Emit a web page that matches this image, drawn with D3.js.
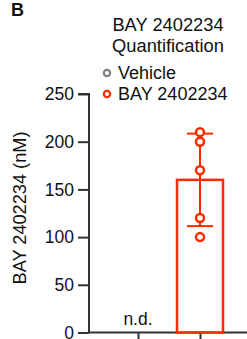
<!DOCTYPE html>
<html><head><meta charset="utf-8">
<script src="https://cdn.jsdelivr.net/npm/d3@7"></script>
<style>body{margin:0;background:#fff}svg{display:block}text{font-family:"Liberation Sans",Arial,sans-serif}</style>
</head><body><svg id="c" width="247" height="339"></svg>
<script>
const groups = ["Vehicle", "BAY 2402234"];
const groupColors = ["#808080", "#ff2a00"];
const bayPoints = [210, 200, 170, 120, 100];
const vehiclePoints = [];
const yTicks = [0, 50, 100, 150, 200, 250];
const title = ["BAY 2402234", "Quantification"];
const yLabel = "BAY 2402234 (nM)";
const panelLetter = "B";

const svg = d3.select("#c");
const y = d3.scaleLinear().domain([0, 250]).range([332.5, 94]);
const x = d3.scalePoint().domain(groups).range([138, 200]);
const axisX = 89;
const red = groupColors[1];

// y axis
const ya = svg.append("g").attr("transform", `translate(${axisX},0)`)
  .call(d3.axisLeft(y).tickValues(yTicks).tickSize(11).tickPadding(4));
ya.select(".domain").attr("stroke", "#333").attr("stroke-width", 2).attr("d", `M-11,${y(250)}H0V${y(0)}`);
ya.selectAll(".tick line").attr("stroke", "#333").attr("stroke-width", 2);
ya.selectAll(".tick text").attr("font-size", 17.5).attr("fill", "#111").attr("font-family", "Liberation Sans, Arial, sans-serif");

// x axis
const xa = svg.append("g").attr("transform", `translate(0,${y(0)})`)
  .call(d3.axisBottom(x).tickSize(8).tickFormat(""));
xa.select(".domain").attr("stroke", "#333").attr("stroke-width", 2).attr("d", `M${axisX},0H260`);
xa.selectAll(".tick line").attr("stroke", "#333").attr("stroke-width", 2);

// bar
const mean = d3.mean(bayPoints);
const sd = d3.deviation(bayPoints);
const bw = 46;
svg.append("rect")
  .attr("x", x(groups[1]) - bw / 2).attr("y", y(mean))
  .attr("width", bw).attr("height", y(0) - y(mean))
  .attr("fill", "none").attr("stroke", red).attr("stroke-width", 2.5);

// error bar
const eg = svg.append("g").attr("stroke", red).attr("stroke-width", 2);
eg.append("line").attr("x1", x(groups[1])).attr("x2", x(groups[1])).attr("y1", y(mean + sd)).attr("y2", y(mean - sd));
[mean + sd, mean - sd].forEach(v => eg.append("line")
  .attr("x1", x(groups[1]) - 13).attr("x2", x(groups[1]) + 13).attr("y1", y(v)).attr("y2", y(v)));

// points
svg.selectAll("circle.pt").data(bayPoints).join("circle").attr("class", "pt")
  .attr("cx", x(groups[1])).attr("cy", d => y(d)).attr("r", 4)
  .attr("fill", "#fff").attr("stroke", red).attr("stroke-width", 2.5);

// n.d.
svg.append("text").attr("x", x(groups[0])).attr("y", 325).attr("text-anchor", "middle")
  .attr("font-size", 17.5).attr("fill", "#111").text("n.d.");

// y label
svg.append("text").attr("transform", `translate(25.5,208) rotate(-90)`)
  .attr("text-anchor", "middle").attr("font-size", 18.2).attr("fill", "#111").text(yLabel);

// title
svg.selectAll("text.title").data(title).join("text").attr("class", "title")
  .attr("x", 168).attr("y", (d, i) => 31 + i * 21).attr("text-anchor", "middle")
  .attr("font-size", 18.3).attr("fill", "#111").text(d => d);

// legend
const lg = svg.selectAll("g.lg").data(groups).join("g").attr("class", "lg")
  .attr("transform", (d, i) => `translate(107,${73 + i * 21})`);
lg.append("circle").attr("r", 3.2).attr("fill", "#fff")
  .attr("stroke", (d, i) => groupColors[i]).attr("stroke-width", 2.2);
lg.append("text").attr("x", 11).attr("y", 6).attr("font-size", 18).attr("fill", "#111").text(d => d);

// panel letter
svg.append("text").attr("x", 11).attr("y", 15.5).attr("font-size", 18).attr("font-weight", "bold")
  .attr("fill", "#111").text(panelLetter);
</script></body></html>
